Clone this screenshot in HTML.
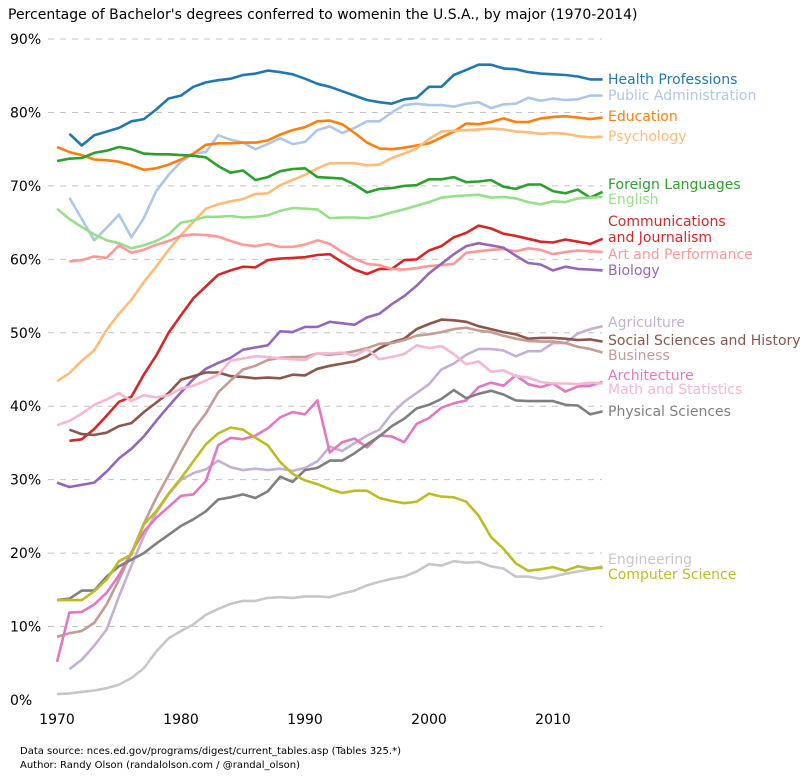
<!DOCTYPE html>
<html><head><meta charset="utf-8"><style>
body{margin:0;background:#fff;}
svg text{font-family:"DejaVu Sans","Liberation Sans",sans-serif;}
</style></head><body>
<svg id="chart" width="808" height="777" xmlns="http://www.w3.org/2000/svg">
<text x="8" y="19" font-size="14" fill="#000">Percentage of Bachelor's degrees conferred to womenin the U.S.A., by major (1970-2014)</text>
<g id="grid"></g><g id="lines"></g><g id="labels"></g><g id="axes"></g>
<text x="20" y="754" font-size="10">Data source: nces.ed.gov/programs/digest/current_tables.asp (Tables 325.*)</text>
<text x="20" y="768" font-size="10">Author: Randy Olson (randalolson.com / @randal_olson)</text>
</svg>
<script>
const years = [];
for (let y = 1970; y <= 2014; y++) years.push(y);
const yTicks = [0,10,20,30,40,50,60,70,80,90];
const xTicks = [1970,1980,1990,2000,2010];
const N = null;
const health = [N,77.1,75.5,76.9,77.4,77.9,78.8,79.1,80.4,81.9,82.3,83.5,84.1,84.4,84.6,85.1,85.3,85.7,85.5,85.2,84.6,83.9,83.5,82.9,82.3,81.7,81.4,81.2,81.8,82.0,83.5,83.5,85.1,85.8,86.5,86.5,86.0,85.9,85.5,85.3,85.2,85.1,84.9,84.5,84.5];
const pubAdmin = [N,68.4,65.5,62.6,64.3,66.1,63.0,65.6,69.3,71.5,73.3,74.4,74.6,76.9,76.3,75.9,75.0,75.7,76.5,75.7,76.0,77.6,78.1,77.2,77.9,78.8,78.8,80.0,81.0,81.2,81.0,81.0,80.8,81.2,81.4,80.6,81.1,81.2,82.0,81.6,81.9,81.7,81.8,82.3,82.3];
const education = [75.3,74.6,74.2,73.6,73.5,73.3,72.8,72.2,72.4,72.9,73.6,74.4,75.6,75.8,75.8,75.9,75.9,76.2,77.0,77.6,78.0,78.8,78.9,78.4,77.2,75.9,75.1,75.0,75.2,75.5,75.8,76.6,77.4,78.5,78.4,78.7,79.2,78.7,78.7,79.2,79.4,79.5,79.3,79.1,79.3];
const psychology = [43.4,44.5,46.2,47.6,50.4,52.6,54.5,56.9,59.0,61.3,63.3,65.1,66.9,67.5,67.9,68.2,68.9,69.0,70.1,70.8,71.5,72.4,73.1,73.1,73.1,72.8,72.9,73.8,74.4,75.1,76.4,77.4,77.5,77.6,77.7,77.8,77.7,77.4,77.3,77.1,77.2,77.1,76.8,76.6,76.7];
const foreign = [73.4,73.7,73.8,74.5,74.8,75.3,75.0,74.4,74.3,74.3,74.2,74.1,73.9,72.7,71.8,72.1,70.8,71.2,72.0,72.3,72.4,71.2,71.1,71.0,70.2,69.1,69.6,69.7,70.0,70.1,70.9,70.9,71.2,70.5,70.6,70.8,69.9,69.6,70.2,70.2,69.3,69.0,69.5,68.4,69.2];
const english = [66.9,65.5,64.4,63.4,62.6,62.2,61.5,61.9,62.5,63.4,65.0,65.3,65.8,65.8,65.9,65.7,65.8,66.0,66.6,67.0,66.9,66.8,65.6,65.7,65.7,65.6,65.9,66.4,66.8,67.3,67.8,68.4,68.6,68.7,68.8,68.4,68.5,68.3,67.8,67.5,67.9,67.8,68.3,68.4,68.5];
const art = [N,59.7,59.9,60.4,60.2,61.9,60.9,61.3,62.0,62.5,63.2,63.4,63.3,63.1,62.5,62.0,61.8,62.1,61.7,61.7,62.0,62.6,62.1,61.0,60.1,59.4,59.2,58.7,58.6,58.8,59.1,59.2,59.4,60.9,61.1,61.3,61.4,61.1,61.5,61.3,60.7,61.0,61.2,61.1,61.0];
const comm = [N,35.3,35.5,36.9,38.7,40.6,41.3,44.3,46.9,50.0,52.4,54.7,56.3,57.9,58.5,59.0,58.9,59.9,60.1,60.2,60.3,60.6,60.7,59.6,58.6,58.0,58.7,58.7,59.9,60.0,61.2,61.8,63.0,63.6,64.6,64.2,63.5,63.2,62.8,62.4,62.3,62.7,62.4,62.1,62.8];
const biology = [29.6,29.0,29.3,29.6,31.1,32.9,34.2,35.9,38.0,40.0,41.9,43.7,45.1,45.9,46.6,47.7,48.0,48.3,50.2,50.1,50.8,50.8,51.5,51.3,51.1,52.1,52.6,53.9,55.0,56.4,58.1,59.4,60.7,61.8,62.2,61.9,61.6,60.5,59.5,59.3,58.5,59.0,58.7,58.6,58.5];
const agriculture = [N,4.2,5.5,7.4,9.6,14.1,18.3,22.3,25.5,28.0,30.0,30.9,31.4,32.6,31.7,31.3,31.5,31.3,31.5,31.2,31.6,32.5,34.5,33.9,35.0,36.0,36.8,39.0,40.6,41.8,43.0,45.0,45.8,47.0,47.8,47.8,47.6,46.8,47.5,47.5,48.6,48.6,49.9,50.5,50.9];
const socsci = [N,36.8,36.2,36.1,36.4,37.3,37.7,39.2,40.5,41.8,43.6,44.1,44.6,44.6,44.1,44.0,43.8,43.9,43.8,44.3,44.2,45.1,45.5,45.8,46.1,46.8,47.9,48.7,49.2,50.5,51.2,51.8,51.7,51.5,50.9,50.5,50.1,49.8,49.2,49.3,49.3,49.2,49.0,49.1,48.8];
const business = [8.6,9.1,9.4,10.5,13.0,16.4,20.0,24.0,27.5,30.6,33.8,36.8,39.0,41.9,43.5,45.0,45.5,46.3,46.6,46.7,46.7,47.2,47.0,47.2,47.5,47.9,48.5,48.6,49.0,49.6,49.8,50.1,50.5,50.7,50.3,50.1,49.6,49.2,48.9,48.8,48.8,48.6,48.1,47.8,47.3];
const architecture = [5.2,11.9,12.0,13.0,14.6,17.0,20.1,22.9,24.8,26.3,27.8,28.0,29.8,34.7,35.7,35.5,36.0,37.0,38.5,39.2,38.9,40.8,33.7,35.1,35.6,34.4,36.0,35.9,35.1,37.6,38.4,39.8,40.4,40.8,42.6,43.2,42.8,44.2,43.0,42.6,43.1,42.0,42.7,42.8,43.3];
const math = [37.4,38.0,39.0,40.2,40.9,41.8,40.7,41.5,41.2,41.5,42.4,42.8,43.5,44.3,46.2,46.5,46.8,46.7,46.5,46.4,46.3,47.2,47.2,47.3,46.9,47.8,46.4,46.7,47.1,48.3,47.9,48.2,47.1,45.7,46.1,44.7,44.9,44.1,43.9,43.3,43.1,43.1,43.0,43.2,43.1];
const physical = [13.6,13.8,14.9,14.9,16.8,18.2,19.1,20.0,21.3,22.5,23.7,24.6,25.7,27.3,27.6,28.0,27.5,28.4,30.4,29.7,31.3,31.6,32.6,32.6,33.6,34.8,35.9,37.3,38.3,39.7,40.2,41.0,42.2,41.1,41.7,42.1,41.6,40.8,40.7,40.7,40.7,40.2,40.1,38.9,39.3];
const engineering = [0.8,0.9,1.1,1.3,1.6,2.1,3.0,4.3,6.6,8.4,9.4,10.3,11.6,12.4,13.1,13.5,13.5,13.9,14.0,13.9,14.1,14.1,14.0,14.5,14.9,15.6,16.1,16.5,16.8,17.5,18.5,18.3,18.9,18.7,18.8,18.2,17.9,16.8,16.8,16.5,16.8,17.2,17.5,17.8,18.2];
const compsci = [13.6,13.6,13.6,14.8,16.4,18.9,19.8,23.9,25.7,28.1,30.2,32.5,34.8,36.3,37.1,36.8,35.7,34.7,32.4,30.8,29.9,29.4,28.7,28.2,28.5,28.5,27.5,27.1,26.8,27.0,28.1,27.7,27.6,27.0,25.1,22.2,20.6,18.6,17.6,17.8,18.1,17.6,18.2,17.9,18.0];

const series = [
 ["Health Professions","#1f77b4",health,79],
 ["Public Administration","#aec7e8",pubAdmin,95],
 ["Education","#ff7f0e",education,116],
 ["Psychology","#ffbb78",psychology,136],
 ["Foreign Languages","#2ca02c",foreign,184],
 ["English","#98df8a",english,199],
 ["Communications\nand Journalism","#d62728",comm,221],
 ["Art and Performance","#ff9896",art,254],
 ["Biology","#9467bd",biology,270],
 ["Agriculture","#c5b0d5",agriculture,322],
 ["Social Sciences and History","#8c564b",socsci,340],
 ["Business","#c49c94",business,355],
 ["Architecture","#e377c2",architecture,375],
 ["Math and Statistics","#f7b6d2",math,389],
 ["Physical Sciences","#7f7f7f",physical,411],
 ["Engineering","#c7c7c7",engineering,559],
 ["Computer Science","#bcbd22",compsci,574]
];
const NS="http://www.w3.org/2000/svg";
const xs = yr => 57 + (yr-1970)*12.4;
const ys = v => 700 - v*7.344;
function mk(tag, attrs, parent){const e=document.createElementNS(NS,tag);for(const k in attrs)e.setAttribute(k,attrs[k]);parent.appendChild(e);return e;}
const grid=document.getElementById('grid'), lines=document.getElementById('lines'), labels=document.getElementById('labels'), axes=document.getElementById('axes');
yTicks.forEach(t=>{
  if(t>0){const l=mk('line',{x1:48,x2:602,y1:ys(t),y2:ys(t),stroke:'#c4c4c4','stroke-width':1,'stroke-dasharray':'6,6'},grid);
  
  }
  const tx=mk('text',{x:10,y:ys(t)+5,'font-size':14,fill:'#000'},axes);
  tx.textContent=t+'%';
  
  
});
xTicks.forEach(t=>{
  const tx=mk('text',{x:xs(t),y:724,'font-size':14,'text-anchor':'middle',fill:'#000'},axes);
  tx.textContent=t;
  
  
});
series.forEach(([name,color,vals,ly])=>{
  let d='';
  vals.forEach((v,i)=>{if(v===null)return;d+=(d?'L':'M')+xs(years[i]).toFixed(1)+','+ys(v).toFixed(1);});
  const slug=name.toLowerCase().replace(/[^a-z]+/g,'-');
  const p=mk('path',{d:d,fill:'none',stroke:color,'stroke-width':2.6,'stroke-linejoin':'round'},lines);
  
  
  const parts=name.split('\n');
  parts.forEach((s,j)=>{
    const t=mk('text',{x:608,y:ly+5+j*16,'font-size':14,fill:color},labels);
    t.textContent=s;
    
    
  });
});
</script>
</body></html>
